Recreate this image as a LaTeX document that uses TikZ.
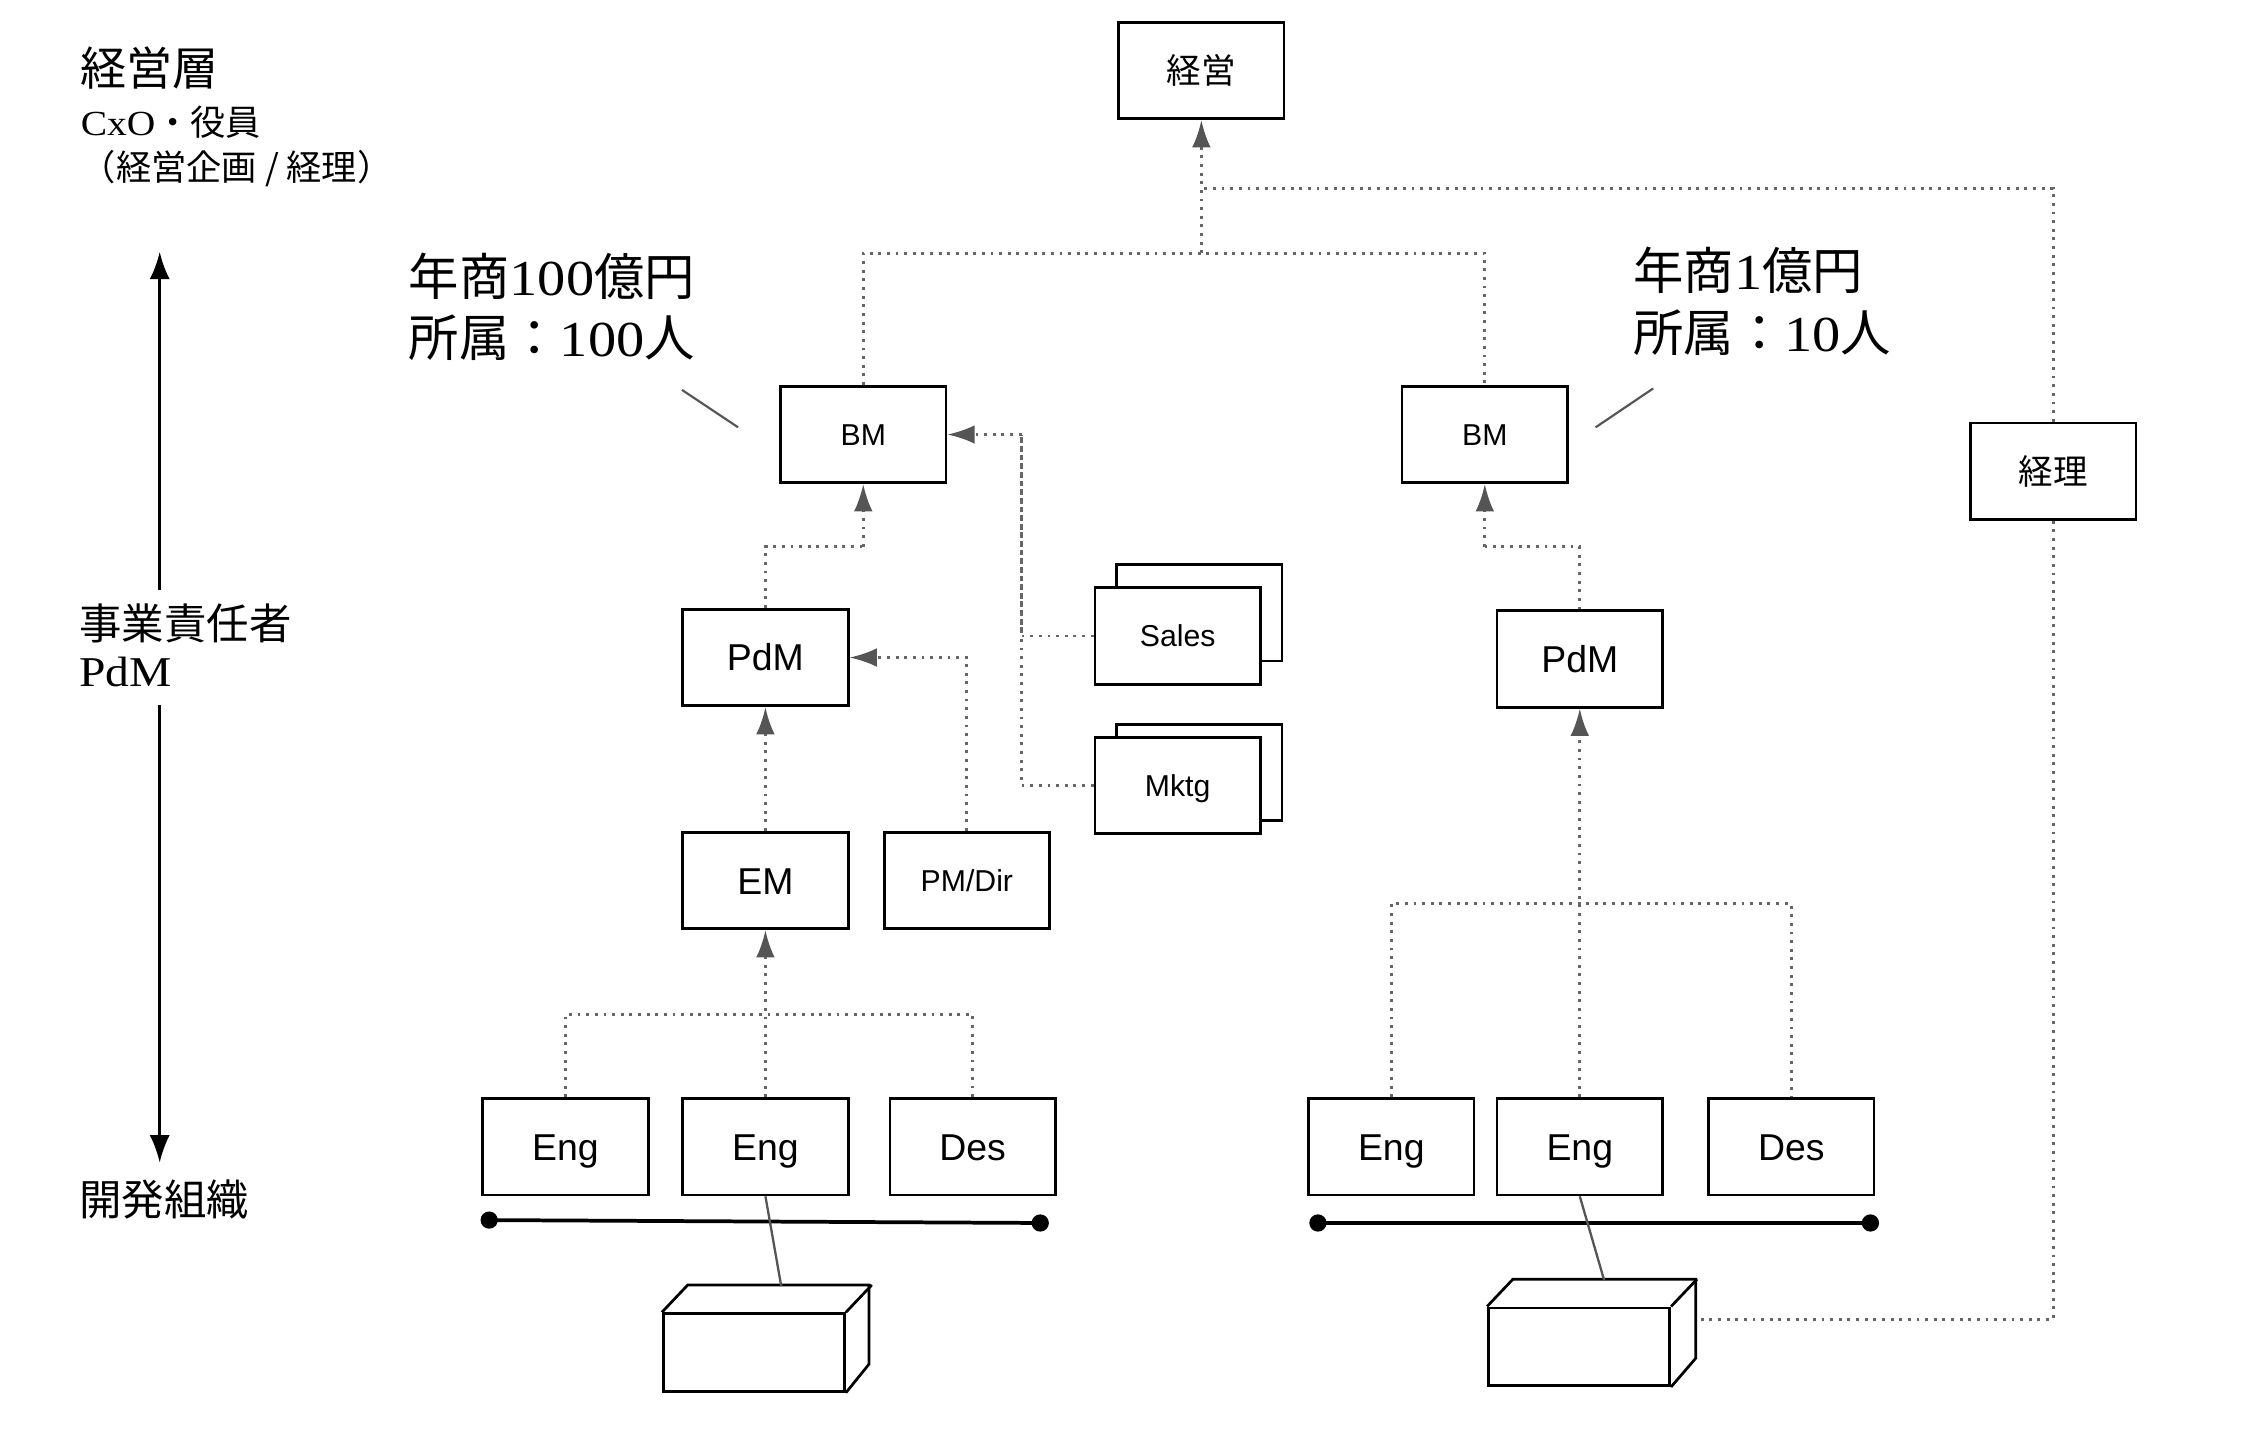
\documentclass[tikz,border=0pt]{standalone}
\usepackage{fontspec}
\setmainfont{Liberation Sans}
\newfontfamily\jp{Noto Sans CJK JP}
\newfontfamily\ser[FakeStretch=1.12]{Liberation Serif}
\usetikzlibrary{arrows.meta,calc}
\definecolor{dotgray}{HTML}{666666}
\definecolor{arrgray}{HTML}{555555}
\begin{document}
\begin{tikzpicture}[x=1pt,y=-1pt,
  box/.style={draw=black,line width=1.9pt,fill=white,minimum width=115pt,minimum height=67pt,inner sep=0pt,text height=15.1pt,text depth=0pt,font=\fontsize{21}{24}\selectfont},
  bigbox/.style={box,text height=18.7pt,font=\fontsize{26}{30}\selectfont},
  jbox/.style={box,text height=18.2pt,text depth=0pt,font=\jp\fontsize{24}{28}\selectfont},
  cubeface/.style={draw=black,line width=1.9pt,fill=white,minimum width=126pt,minimum height=54pt,inner sep=0pt},
  cubeline/.style={draw=black,line width=1.9pt,line join=miter},
  dotline/.style={draw=dotgray,line width=2pt,dash pattern=on 2pt off 4pt},
  arr/.style={-{Latex[length=19pt,width=13pt,color=arrgray]}},
  anno/.style={draw=arrgray,line width=1.5pt},
  link/.style={draw=arrgray,line width=1.6pt},
  bus/.style={draw=black,line width=2.6pt},
  busdot/.style={circle,fill=black,minimum size=12pt,inner sep=0pt},
  lbl/.style={anchor=west,inner sep=0pt},
  axis/.style={draw=black,line width=1.9pt,-{Latex[length=19pt,width=14pt]}}
]
\useasboundingbox (0,0) rectangle (1568,994);

% ---- left side labels ----
\node[lbl,font=\jp\fontsize{32}{36}\selectfont] (t1) at (56,47) {経営層};
\node[lbl,font=\fontsize{24.5}{28}\selectfont] (t2) at (56,85) {{\ser CxO}{\jp ・役員}};
\node[lbl,font=\jp\fontsize{24.5}{28}\selectfont] (t3) at (56,117) {（経営企画 / 経理）};
\node[lbl,font=\jp\fontsize{29.5}{34}\selectfont] (t4) at (55,433) {事業責任者};
\node[lbl,font=\ser\fontsize{29.5}{34}\selectfont] (t5) at (55,467) {PdM};
\node[lbl,font=\jp\fontsize{29.5}{34}\selectfont] (t6) at (55,834) {開発組織};

\coordinate (vaTop) at (111,175);
\coordinate (vaMid1) at (111,410);
\coordinate (vaMid2) at (111,490);
\coordinate (vaBot) at (111,808);
\draw[axis] (vaMid1) -- (vaTop);
\draw[axis] (vaMid2) -- (vaBot);

% ---- annotations ----
\node[lbl,font=\fontsize{35}{40}\selectfont] (a1) at (284,192) {{\jp 年商}{\ser 100}{\jp 億円}};
\node[lbl,font=\fontsize{35}{40}\selectfont] (a2) at (284,235) {{\jp 所属：}{\ser 100}{\jp 人}};
\node[lbl,font=\fontsize{35}{40}\selectfont] (a3) at (1135,188) {{\jp 年商}{\ser 1}{\jp 億円}};
\node[lbl,font=\fontsize{35}{40}\selectfont] (a4) at (1135,231) {{\jp 所属：}{\ser 10}{\jp 人}};
\coordinate (aL1) at (474,271);
\coordinate (aL2) at (513,297);
\coordinate (aR1) at (1109,297);
\coordinate (aR2) at (1149,270);
\draw[anno] (aL1) -- (aL2);
\draw[anno] (aR1) -- (aR2);

% ---- boxes ----
\node[jbox] (keiei) at (835,49) {経営};
\node[box] (bmL) at (600,302) {BM};
\node[box] (bmR) at (1032,302) {BM};
\node[jbox] (keiri) at (1427,327.5) {経理};
\node[bigbox] (pdmL) at (532,457) {PdM};
\node[bigbox] (pdmR) at (1098,458) {PdM};
\node[bigbox] (em) at (532,612) {EM};
\node[box] (pmdir) at (672,612) {PM/Dir};
\node[box] (salesB) at (833.5,426) {};
\node[box] (sales) at (818.5,442) {Sales};
\node[box] (mktgB) at (833.5,537) {};
\node[box] (mktg) at (818.5,546) {Mktg};
\node[bigbox] (engL1) at (393,797) {Eng};
\node[bigbox] (engL2) at (532,797) {Eng};
\node[bigbox] (desL) at (676,797) {Des};
\node[bigbox] (engR1) at (967,797) {Eng};
\node[bigbox] (engR2) at (1098,797) {Eng};
\node[bigbox] (desR) at (1245,797) {Des};

% ---- cubes ----
\node[cubeface] (cubeL) at (524,940) {};
\draw[cubeline] (cubeL.north west) -- ++(18,-19) -- ++(126,0) -- ++(0,55) -- (cubeL.south east);
\draw[cubeline] (cubeL.north east) -- ++(18,-19);
\node[cubeface] (cubeR) at (1097.5,936) {};
\draw[cubeline] (cubeR.north west) -- ++(18,-19) -- ++(127,0) -- ++(0,55) -- (cubeR.south east);
\draw[cubeline] (cubeR.north east) -- ++(18,-19);
\coordinate (cubeLtop) at (543,894);
\coordinate (cubeRtop) at (1115,890);
\coordinate (cubeRside) at (1179,917);

% ---- bus lines ----
\node[busdot] (bl1) at (340,848) {};
\node[busdot] (bl2) at (723,850) {};
\node[busdot] (br1) at (916,850) {};
\node[busdot] (br2) at (1300,850) {};
\draw[bus] (bl1.center) -- (bl2.center);
\draw[bus] (br1.center) -- (br2.center);
\draw[link] (engL2.south) -- (cubeLtop);
\draw[link] (engR2.south) -- (cubeRtop);

% ---- dotted connectors ----
\coordinate (jTop) at (835,176);
\coordinate (jK) at (835,131);
\draw[dotline] (bmL.north) |- (jTop) -| (bmR.north);
\draw[dotline,arr] (jTop) -- (keiei.south);
\draw[dotline] (keiri.north) |- (jK);
\draw[dotline] (keiri.south) |- (cubeRside);

\coordinate (jPL) at (600,380);
\draw[dotline] (pdmL.north) |- (jPL);
\draw[dotline,arr] (jPL) -- (bmL.south);
\coordinate (jPR) at (1032,380);
\draw[dotline] (pdmR.north) |- (jPR);
\draw[dotline,arr] (jPR) -- (bmR.south);

\coordinate (jSM) at (710,302);
\draw[dotline] (sales.west) -| (jSM);
\draw[dotline] (mktg.west) -| (jSM);
\draw[dotline,arr] (jSM) -- (bmL.east);

\draw[dotline,arr] (pmdir.north) |- (pdmL.east);
\draw[dotline,arr] (em.north) -- (pdmL.south);

\coordinate (jEL) at (532,705);
\draw[dotline] (engL1.north) |- (jEL) -| (desL.north);
\draw[dotline,arr] (engL2.north) -- (em.south);
\coordinate (jER) at (1098,628);
\draw[dotline] (engR1.north) |- (jER) -| (desR.north);
\draw[dotline,arr] (engR2.north) -- (pdmR.south);
\end{tikzpicture}
\end{document}
